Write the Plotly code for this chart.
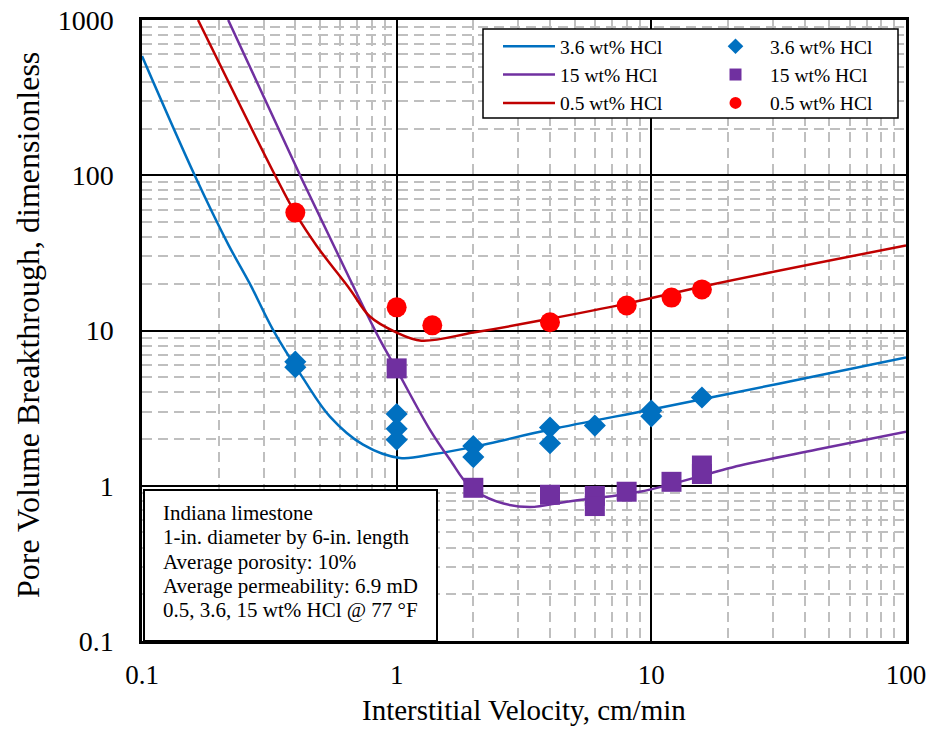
import plotly.graph_objects as go

# Measured breakthrough pore volumes vs interstitial velocity (cm/min)
vel_36 = [0.4, 0.4, 1, 1, 1, 2, 2, 4, 4, 6, 10, 10, 15.8]
pvbt_36 = [6.3, 5.8, 2.9, 2.33, 1.98, 1.8, 1.53, 2.37, 1.88, 2.44, 3.05, 2.8, 3.7]

vel_15 = [1, 2, 4, 6, 6, 8, 12, 15.8, 15.8]
pvbt_15 = [5.7, 0.97, 0.875, 0.86, 0.74, 0.915, 1.06, 1.35, 1.19]

vel_05 = [0.4, 1, 1.38, 4, 8, 12, 15.8]
pvbt_05 = [57.5, 14.1, 10.8, 11.3, 14.5, 16.3, 18.4]

# Model curves
fit_vel_36 = [0.1, 0.161, 0.218, 0.266, 0.327, 0.43, 0.547, 0.738, 1.03, 1.4, 2, 4, 10, 20, 50, 100]
fit_pv_36 = [586, 100, 35.9, 19.8, 10.1, 4.9, 2.79, 1.84, 1.51, 1.6, 1.78, 2.3, 3.1, 3.9, 5.3, 6.7]

fit_vel_15 = [0.218, 0.425, 0.656, 0.86, 1.0, 1.35, 1.62, 1.94, 2.48, 3.33, 4.65, 9.0, 22.3, 44.7, 100]
fit_pv_15 = [1000, 94, 21.3, 8.7, 5.6, 2.3, 1.47, 0.985, 0.79, 0.73, 0.79, 0.915, 1.35, 1.71, 2.23]

fit_vel_05 = [0.166, 0.333, 0.4, 0.487, 0.656, 0.785, 1.0, 1.25, 2.0, 3.89, 8, 17.3, 100]
fit_pv_05 = [1000, 100, 57, 34.8, 18.4, 12.3, 9.7, 8.6, 9.7, 11.8, 14.9, 19.8, 35.3]

series_names = ["3.6 wt% HCl", "15 wt% HCl", "0.5 wt% HCl"]
line_colors = ["#0070C0", "#7030A0", "#C00000"]
marker_colors = ["#0070C0", "#7030A0", "#FF0000"]
marker_symbols = ["diamond", "square", "circle"]
marker_sizes = [17, 20, 20]

x_ticks = [0.1, 1, 10, 100]
x_ticktext = ["0.1", "1", "10", "100"]
y_ticks = [0.1, 1, 10, 100, 1000]
y_ticktext = ["0.1", "1", "10", "100", "1000"]

box_lines = [
    "Indiana limestone",
    "1-in. diameter by 6-in. length",
    "Average porosity: 10%",
    "Average permeability: 6.9 mD",
    "0.5, 3.6, 15 wt% HCl @ 77 °F",
]

x_minor = [m * 10.0 ** e for e in (-1, 0, 1) for m in range(2, 10)]
y_minor = [m * 10.0 ** e for e in (-1, 0, 1, 2) for m in range(2, 10)]

FONT = "Liberation Serif"

fig = go.Figure()

fits = [(fit_vel_36, fit_pv_36), (fit_vel_15, fit_pv_15), (fit_vel_05, fit_pv_05)]
for (fx, fy), name, col in zip(fits, series_names, line_colors):
    fig.add_trace(go.Scatter(
        x=fx, y=fy, mode="lines", name=name,
        line=dict(color=col, width=2.5, shape="spline", smoothing=1.0),
        legend="legend",
    ))

points = [(vel_36, pvbt_36), (vel_15, pvbt_15), (vel_05, pvbt_05)]
for (px, py), name, col, sym, sz in zip(points, series_names, marker_colors, marker_symbols, marker_sizes):
    fig.add_trace(go.Scatter(
        x=px, y=py, mode="markers", name=name,
        marker=dict(color=col, symbol=sym, size=sz, line=dict(width=0)),
        legend="legend2",
    ))

L, R, T, B = 142, 29, 20, 88
W, H = 935, 729
pw, ph = W - L - R, H - T - B


def px_x(p):
    return (p - L) / pw


def px_y(p):
    return (H - B - p) / ph


minor_style = dict(showgrid=True, gridcolor="#BFBFBF", gridwidth=1.5, griddash="10px,6px", ticks="")

fig.update_xaxes(
    type="log", range=[-1, 2], automargin=False,
    tickmode="array", tickvals=x_ticks, ticktext=x_ticktext,
    showgrid=True, gridcolor="black", gridwidth=1.5,
    showline=True, linecolor="black", linewidth=2.5, mirror=True,
    ticks="outside", ticklen=0, ticklabelstandoff=8,
    tickfont=dict(family=FONT, size=27, color="black"),
    minor=dict(tickmode="array", tickvals=x_minor, **minor_style),
    zeroline=False,
)
fig.update_yaxes(
    type="log", range=[-1, 3], automargin=False,
    tickmode="array", tickvals=y_ticks, ticktext=y_ticktext,
    showgrid=True, gridcolor="black", gridwidth=1.5,
    showline=True, linecolor="black", linewidth=2.5, mirror=True,
    ticks="outside", ticklen=0, ticklabelstandoff=20,
    tickfont=dict(family=FONT, size=28, color="black"),
    minor=dict(tickmode="array", tickvals=y_minor, **minor_style),
    zeroline=False,
)

shapes = [
    # legend frame
    dict(type="rect", xref="paper", yref="paper",
         x0=px_x(483), x1=px_x(898), y0=px_y(118), y1=px_y(29),
         line=dict(color="black", width=1.5), fillcolor="white", layer="above"),
    # info box frame
    dict(type="rect", xref="paper", yref="paper",
         x0=px_x(144), x1=px_x(437), y0=px_y(641), y1=px_y(490),
         line=dict(color="black", width=2), fillcolor="white", layer="above"),
]

annotations = [
    dict(text="Interstitial Velocity, cm/min", xref="paper", yref="paper",
         x=0.5, y=px_y(710), xanchor="center", yanchor="middle", showarrow=False,
         font=dict(family=FONT, size=29, color="black")),
    dict(text="Pore Volume Breakthrough, dimensionless", xref="paper", yref="paper",
         x=px_x(28), y=px_y(325), xanchor="center", yanchor="middle", showarrow=False,
         textangle=-90, font=dict(family=FONT, size=32, color="black")),
]
for i, txt in enumerate(box_lines):
    annotations.append(dict(
        text=txt, xref="paper", yref="paper",
        x=px_x(161), y=px_y(513 + 24.3 * i), xanchor="left", yanchor="middle",
        showarrow=False, font=dict(family=FONT, size=21, color="black"),
    ))

fig.update_layout(
    width=W, height=H,
    margin=dict(l=L, r=R, t=T, b=B, autoexpand=False),
    plot_bgcolor="white", paper_bgcolor="white",
    font=dict(family=FONT, color="black"),
    shapes=shapes, annotations=annotations,
    legend=dict(x=px_x(498), y=px_y(27), xanchor="left", yanchor="top",
                bgcolor="rgba(0,0,0,0)", borderwidth=0, itemwidth=52,
                font=dict(family=FONT, size=19.5, color="black"), tracegroupgap=0),
    legend2=dict(x=px_x(701), y=px_y(27), xanchor="left", yanchor="top",
                 bgcolor="rgba(0,0,0,0)", borderwidth=0, itemwidth=59,
                 itemsizing="constant",
                 font=dict(family=FONT, size=19.5, color="black"), tracegroupgap=0),
    showlegend=True,
)

fig.write_html("out.html")
